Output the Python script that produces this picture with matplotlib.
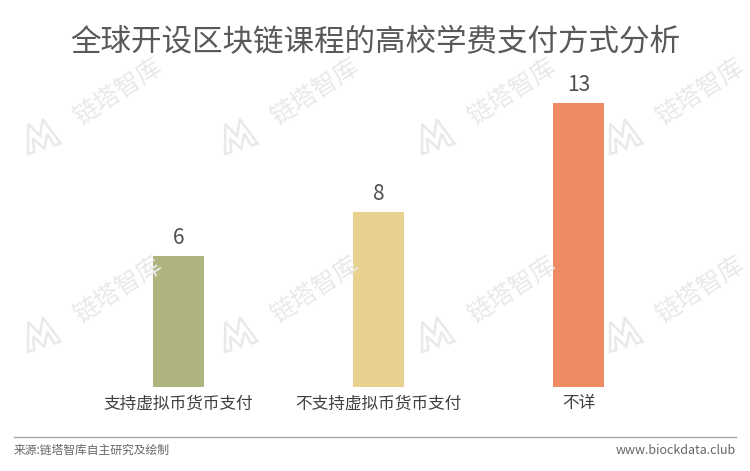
import numpy as np
import matplotlib
matplotlib.use("Agg")
import matplotlib.pyplot as plt
from matplotlib.patches import Polygon
from matplotlib.transforms import Affine2D

plt.rcParams['font.family'] = ['Noto Sans CJK SC', 'DejaVu Sans']

# Data
categories = ["支持虚拟币货币支付", "不支持虚拟币货币支付", "不详"]
counts = [6, 8, 13]
bar_colors = ["#AFB47E", "#E8D08E", "#EF8B62"]

title = "全球开设区块链课程的高校学费支付方式分析"
source_text = "来源:链塔智库自主研究及绘制"
site_text = "www.biockdata.club"
watermark = "链塔智库"

W, H = 750, 471
fig = plt.figure(figsize=(W / 100, H / 100), dpi=100)
fig.patch.set_facecolor("white")

# Background watermark layer (figure pixel coordinates, drawn beneath the axes)
wm_color = "#E9E9E9"
angle = 33
logo_shape = np.array([[0, 0], [10, 30], [18, 14], [26, 30], [36, 0], [29, 0],
                       [26, 14], [18, 0], [10, 14], [7, 0]], dtype=float)
for row_y in (92, 290):
    for col_x in (118, 315, 512, 700):
        fig.text(col_x / W, 1 - row_y / H, watermark, fontsize=18,
                 color=wm_color, rotation=angle, ha="center", va="center",
                 rotation_mode="anchor", zorder=0)
        # small mountain logo at lower-left of the text
        lx, ly = col_x - 90, row_y + 62
        tr = Affine2D().rotate_deg(angle - 15).translate(lx, H - ly)
        pts = tr.transform(logo_shape * 0.95)
        fig.patches.append(Polygon(pts, closed=True, fill=False, edgecolor=wm_color,
                                   linewidth=1.8, transform=None, zorder=0))

# Chart axes
px_per_unit = 284 / 13
ymax = 14
ax_left, ax_width = 78.5 / W, 600 / W
ax_bottom = (H - 387) / H
ax_height = ymax * px_per_unit / H
ax = fig.add_axes([ax_left, ax_bottom, ax_width, ax_height])
ax.patch.set_alpha(0)

x = np.arange(len(categories))
bars = ax.bar(x, counts, width=0.255, color=bar_colors, zorder=2)
ax.set_xlim(-0.5, len(categories) - 0.5)
ax.set_ylim(0, ymax)

for xi, v in zip(x, counts):
    ax.annotate(str(v), (xi, v), xytext=(0, 5), textcoords="offset points",
                ha="center", va="bottom", fontsize=15, color="#505050")

ax.set_xticks(x)
ax.set_xticklabels(categories, fontsize=12, color="#404040")
ax.tick_params(axis="x", length=0, pad=6)
ax.set_yticks([])
for s in ax.spines.values():
    s.set_visible(False)

# Title
fig.text(0.5, 1 - 43 / H, title, fontsize=22, color="#595959",
         ha="center", va="center")

# Footer
fig.add_artist(plt.Line2D([14 / W, 736 / W], [1 - 437 / H, 1 - 437 / H],
                          color="#A8A8A8", linewidth=1.0))
fig.text(14 / W, 1 - 450 / H, source_text, fontsize=8.5, color="#666666",
         ha="left", va="center")
fig.text(736 / W, 1 - 450 / H, site_text, fontsize=9, color="#666666",
         ha="right", va="center")

fig.savefig("out.png", dpi=100, facecolor="white")
